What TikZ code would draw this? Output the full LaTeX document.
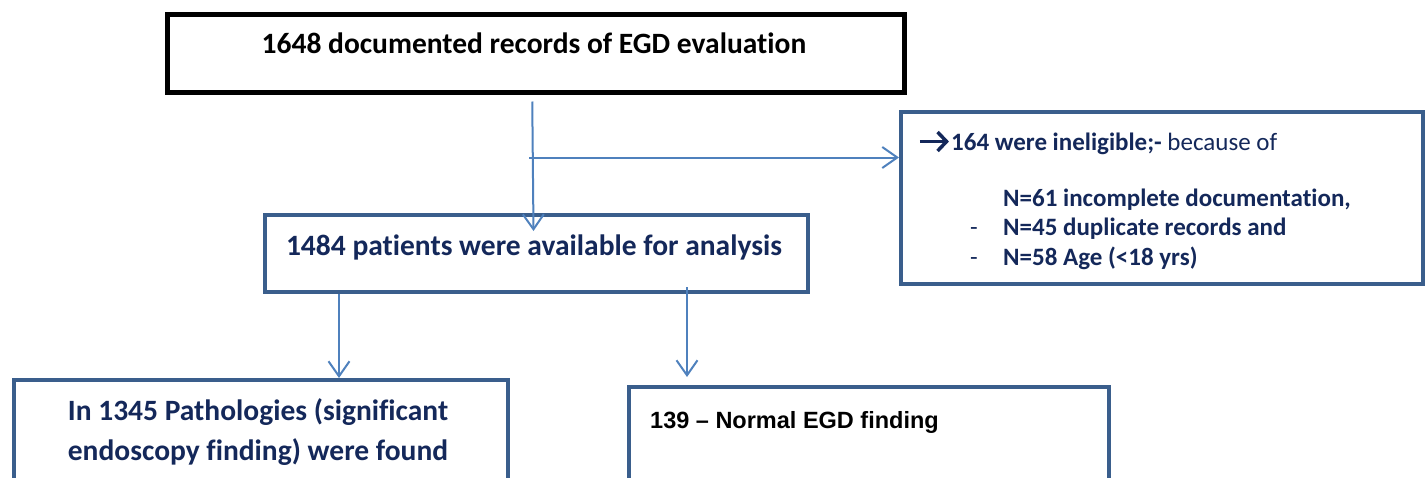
\documentclass[tikz,border=0pt]{standalone}
\usepackage{fontspec}
\setmainfont{Carlito}[Ligatures={TeX,NoCommon}]
\newfontfamily\arialfont{Liberation Sans}
\usetikzlibrary{arrows.meta,calc}
\definecolor{boxblue}{HTML}{3A5E8C}
\definecolor{arrowblue}{HTML}{4F81BD}
\definecolor{navy}{HTML}{14285A}
\newcommand{\boldarrow}{\tikz[baseline=-9pt]\draw[navy,line width=3.5pt,-{Straight Barb[length=9pt,width=19pt,line width=3.5pt]}] (0,0) -- (29pt,0);}
\begin{document}
\begin{tikzpicture}[x=1pt,y=1pt,
  blackbox/.style={draw=black,line width=4.5pt,rectangle,inner sep=0pt,anchor=north west},
  bluebox/.style={draw=boxblue,line width=4pt,rectangle,inner sep=0pt,anchor=north west},
  arr/.style={draw=arrowblue,line width=2pt,-{Straight Barb[length=15pt,width=21pt,line width=2pt]}},
  navytext/.style={text=navy,font=\bfseries\fontsize{29.5}{40}\selectfont,inner sep=0pt}]
\useasboundingbox (0,0) rectangle (1426,-477);
\clip (0,0) rectangle (1426,-477);
% boxes
\node[blackbox,minimum width=737pt,minimum height=78pt] (top) at (165,-12) {};
\node[bluebox,minimum width=522pt,minimum height=172pt] (right) at (899,-110) {};
\node[bluebox,minimum width=543pt,minimum height=77pt] (mid) at (263,-213) {};
\node[bluebox,minimum width=494pt,minimum height=140pt] (bl) at (12,-378) {};
\node[bluebox,minimum width=480pt,minimum height=140pt] (br) at (627,-385) {};
% texts
\node[navytext,text=black,anchor=base] (toptext) at (534,-53) {1648 documented records of EGD evaluation};
\node[navytext,anchor=base] (midtext) at (534,-255) {1484 patients were available for analysis};
\node[navytext,anchor=base,align=center] (bltext) at (258,-460) {In 1345 Pathologies (significant\\endoscopy finding) were found};
\node[inner sep=0pt,anchor=base west,font=\arialfont\bfseries\fontsize{23.5}{28}\selectfont] (brtext) at (650,-428) {139 – Normal EGD finding};
\node[inner sep=0pt,anchor=base west,text=navy,align=left,font=\fontsize{25}{29.5}\selectfont] (righttext) at (918,-265)
  {\makebox[33pt][l]{\boldarrow}\textbf{164 were ineligible;-} because of\\[26pt]
   \hspace*{85pt}\textbf{N=61 incomplete documentation,}\\
   \makebox[85pt][l]{\hspace*{52pt}-}\textbf{N=45 duplicate records and}\\
   \makebox[85pt][l]{\hspace*{52pt}-}\textbf{N=58 Age (<18 yrs)}};
% connectors
\coordinate (split) at ($(top.south)+(-6.5,-63)$);
\draw[arr] ($(top.south)+(-3.5,-7)$) -- ($(mid.north)+(-3,-18)$);
\draw[arr] (split) -- (split -| right.west);
\draw[arr] ($(mid.south west)+(76,0)$) -- ($(bl.north west)+(327,0)$);
\draw[arr] ($(mid.south west)+(424,7)$) -- ($(br.north west)+(60,8)$);
\end{tikzpicture}
\end{document}
